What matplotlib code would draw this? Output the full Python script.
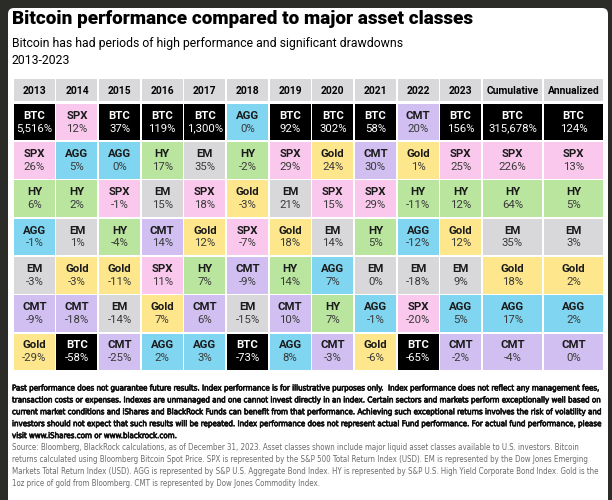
import matplotlib.pyplot as plt
import matplotlib.patheffects as pe
from matplotlib.patches import Rectangle, FancyBboxPatch

columns = ['2013', '2014', '2015', '2016', '2017', '2018', '2019', '2020',
           '2021', '2022', '2023', 'Cumulative', 'Annualized']

# ranked asset names per column (best at top)
assets = [
    ['BTC', 'SPX', 'HY', 'AGG', 'EM', 'CMT', 'Gold'],
    ['SPX', 'AGG', 'HY', 'EM', 'Gold', 'CMT', 'BTC'],
    ['BTC', 'AGG', 'SPX', 'HY', 'Gold', 'EM', 'CMT'],
    ['BTC', 'HY', 'EM', 'CMT', 'SPX', 'Gold', 'AGG'],
    ['BTC', 'EM', 'SPX', 'Gold', 'HY', 'CMT', 'AGG'],
    ['AGG', 'HY', 'Gold', 'SPX', 'CMT', 'EM', 'BTC'],
    ['BTC', 'SPX', 'EM', 'Gold', 'HY', 'CMT', 'AGG'],
    ['BTC', 'Gold', 'SPX', 'EM', 'AGG', 'HY', 'CMT'],
    ['BTC', 'CMT', 'SPX', 'HY', 'EM', 'AGG', 'Gold'],
    ['CMT', 'Gold', 'HY', 'AGG', 'EM', 'SPX', 'BTC'],
    ['BTC', 'SPX', 'HY', 'Gold', 'EM', 'AGG', 'CMT'],
    ['BTC', 'SPX', 'HY', 'EM', 'Gold', 'AGG', 'CMT'],
    ['BTC', 'SPX', 'HY', 'EM', 'Gold', 'AGG', 'CMT'],
]
returns = [
    [5516, 26, 6, -1, -3, -9, -29],
    [12, 5, 2, 1, -3, -18, -58],
    [37, 0, -1, -4, -11, -14, -25],
    [119, 17, 15, 14, 11, 7, 2],
    [1300, 35, 18, 12, 7, 6, 3],
    [0, -2, -3, -7, -9, -15, -73],
    [92, 29, 21, 18, 14, 10, 8],
    [302, 24, 15, 14, 7, 7, -3],
    [58, 30, 29, 5, 0, -1, -6],
    [20, 1, -11, -12, -18, -20, -65],
    [156, 25, 12, 12, 9, 5, -2],
    [315678, 226, 64, 35, 18, 17, -4],
    [124, 13, 5, 3, 2, 2, 0],
]

asset_colors = {'BTC': '#000000', 'SPX': '#f9c8ec', 'AGG': '#80d5f0',
                'HY': '#b9e59f', 'EM': '#d8d8db', 'Gold': '#fde68c',
                'CMT': '#d0bff0'}

title = 'Bitcoin performance compared to major asset classes'
subtitle = 'Bitcoin has had periods of high performance and significant drawdowns'
period = '2013-2023'

disclaimer = [
    'Past performance does not guarantee future results. Index performance is for illustrative purposes only.  Index performance does not reflect any management fees,',
    'transaction costs or expenses. Indexes are unmanaged and one cannot invest directly in an index. Certain sectors and markets perform exceptionally well based on',
    'current market conditions and iShares and BlackRock Funds can benefit from that performance. Achieving such exceptional returns involves the risk of volatility and',
    'investors should not expect that such results will be repeated. Index performance does not represent actual Fund performance. For actual fund performance, please',
    'visit www.iShares.com or www.blackrock.com.',
]
source = [
    'Source: Bloomberg, BlackRock calculations, as of December 31, 2023. Asset classes shown include major liquid asset classes available to U.S. investors. Bitcoin',
    'returns calculated using Bloomberg Bitcoin Spot Price. SPX is represented by the S&P 500 Total Return Index (USD). EM is represented by the Dow Jones Emerging',
    'Markets Total Return Index (USD). AGG is represented by S&P U.S. Aggregate Bond Index. HY is represented by S&P U.S. High Yield Corporate Bond Index. Gold is the',
    '1oz price of gold from Bloomberg. CMT is represented by Dow Jones Commodity Index.',
]

W, H = 612, 500
fig = plt.figure(figsize=(W / 100, H / 100), dpi=100)
fig.patch.set_facecolor('#2b2c28')
ax = fig.add_axes([0, 0, 1, 1])
ax.set_xlim(0, W)
ax.set_ylim(H, 0)
ax.axis('off')
renderer = fig.canvas.get_renderer()


def fit(t, width):
    # shrink/grow a text so that it spans `width` pixels
    w = t.get_window_extent(renderer).width
    t.set_fontsize(t.get_fontsize() * width / w)
    return t


# white panel
ax.add_patch(FancyBboxPatch((8, 8), W - 12, H, boxstyle='round,pad=0,rounding_size=6',
                            fc='white', ec='none'))

main_font = 'Roboto'
foot_font = ['Liberation Sans Narrow', 'DejaVu Sans']

fit(ax.text(12, 19, title, fontsize=15, fontweight='heavy', family=main_font,
            va='center', ha='left'), 462)
fit(ax.text(12, 43, subtitle, fontsize=10, family=main_font, va='center', ha='left'), 392)
ax.text(12, 61, period, fontsize=8.8, family=main_font, va='center', ha='left')

# table geometry
left = 13
year_w = (482 - left) / 11
wide_w = (604 - 482) / 2
widths = [year_w] * 11 + [wide_w, wide_w]
head_top, head_bot = 79, 102
row_h = (371 - 103) / 7
gap = 0.8

x = left
for ci, col in enumerate(columns):
    w = widths[ci]
    ax.add_patch(Rectangle((x + gap, head_top), w - 2 * gap, head_bot - head_top - gap,
                           fc='#d9d9dc', ec='none'))
    ax.text(x + w / 2, (head_top + head_bot) / 2, col, fontsize=7.4, fontweight='bold',
            family=main_font, ha='center', va='center')
    for ri in range(7):
        name = assets[ci][ri]
        val = returns[ci][ri]
        y0 = 103 + ri * row_h
        ax.add_patch(Rectangle((x + gap, y0 + gap), w - 2 * gap, row_h - 2 * gap,
                               fc=asset_colors[name], ec='none'))
        tc = 'white' if name == 'BTC' else '#1a1a1a'
        ax.text(x + w / 2, y0 + row_h / 2 - 6.5, name, fontsize=8.2, fontweight='bold',
                family=main_font, ha='center', va='center', color=tc)
        ax.text(x + w / 2, y0 + row_h / 2 + 6.5, f'{val:,}%', fontsize=8.2,
                family=main_font, ha='center', va='center',
                color='white' if name == 'BTC' else '#3a3a3a')
    x += w

# footnotes
bold_fx = [pe.withStroke(linewidth=0.45, foreground='#111111')]
y = 388
size = None
for i, line in enumerate(disclaimer):
    t = ax.text(12, y, line, fontsize=6, family=foot_font, fontstretch='condensed',
                color='#111111', va='center', ha='left', path_effects=bold_fx)
    if i == 0:
        fit(t, 590)
        size = t.get_fontsize()
    else:
        t.set_fontsize(size)
    y += 11.9
for i, line in enumerate(source):
    t = ax.text(12, y, line, fontsize=6, family=foot_font, fontstretch='condensed',
                color='#6b6b6b', va='center', ha='left')
    if i == 0:
        fit(t, 568)
        size = t.get_fontsize()
    else:
        t.set_fontsize(size)
    y += 11.9

fig.savefig('out.png', dpi=100, facecolor=fig.get_facecolor())
